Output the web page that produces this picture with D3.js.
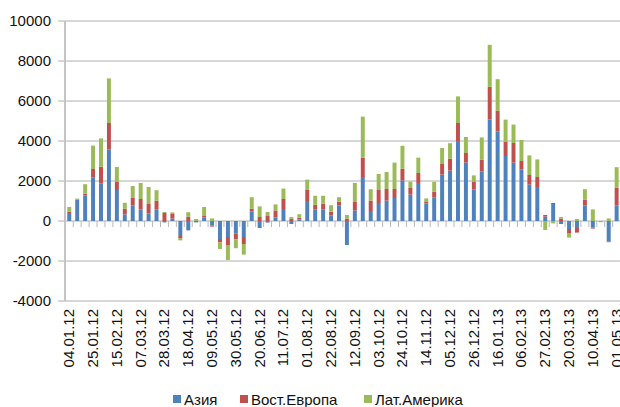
<!DOCTYPE html>
<html>
  <head>
    <meta charset="utf-8">
    <title>Потоки по регионам</title>
    <script src="https://d3js.org/d3.v7.min.js"></script>
    <style>
      body { margin: 0; background: #fff; }
      svg { display: block; font-family: "Liberation Sans", Arial, sans-serif; }
      .grid line { stroke: #b0b0b0; stroke-width: 1.2; }
      .lbl { font-size: 15px; fill: #111; }
    </style>
  </head>
  <body>
    <svg id="chart" width="620" height="407"></svg>
    <script>
      // weekly categories
      dates = ["04.01.12","11.01.12","18.01.12","25.01.12","01.02.12","08.02.12","15.02.12","22.02.12","29.02.12","07.03.12",
        "14.03.12","21.03.12","28.03.12","04.04.12","11.04.12","18.04.12","25.04.12","02.05.12","09.05.12","16.05.12",
        "23.05.12","30.05.12","06.06.12","13.06.12","20.06.12","27.06.12","04.07.12","11.07.12","18.07.12","25.07.12",
        "01.08.12","08.08.12","15.08.12","22.08.12","29.08.12","05.09.12","12.09.12","19.09.12","26.09.12","03.10.12",
        "10.10.12","17.10.12","24.10.12","31.10.12","07.11.12","14.11.12","21.11.12","28.11.12","05.12.12","12.12.12",
        "19.12.12","26.12.12","02.01.13","09.01.13","16.01.13","23.01.13","30.01.13","06.02.13","13.02.13","20.02.13",
        "27.02.13","06.03.13","13.03.13","20.03.13","27.03.13","03.04.13","10.04.13","17.04.13","24.04.13","01.05.13"];
      // series values
      asia = [400,1080,1270,2170,1870,3570,1550,330,780,580,
        380,580,-70,120,-750,-470,-70,180,-230,-900,
        -800,-630,-800,470,-350,-80,180,600,-150,80,
        1000,580,580,270,770,-1200,530,2200,500,900,
        1020,1150,2030,1320,1900,880,1180,2320,2520,4000,
        2920,1580,2480,5080,4470,3250,2920,2570,1830,1700,
        220,850,-150,-400,-350,780,-330,0,-1030,780];
      europe = [70,0,100,430,840,1330,420,280,370,520,
        470,430,400,230,-100,220,0,100,-50,-170,
        -400,-280,-350,150,200,250,350,500,120,80,
        550,230,280,200,200,120,420,970,520,650,
        580,450,580,330,500,100,280,530,600,900,
        480,370,580,1630,1050,720,980,430,470,500,
        80,50,120,-230,-230,280,-50,0,-30,880];
      latam = [230,40,470,1170,1420,2230,730,300,600,800,
        850,530,50,80,-120,220,100,420,130,-330,
        -750,-450,-530,570,530,200,300,520,80,180,
        520,450,400,320,220,180,950,2050,570,800,
        850,1320,1150,320,770,150,500,800,770,1330,
        800,330,1120,2100,1570,1100,920,1050,980,880,
        -450,-120,80,-200,100,530,580,-60,130,1030];
      seriesNames = ["Азия", "Вост.Европа", "Лат.Америка"];
      seriesColours = ["#4F81BD", "#C0504D", "#9BBB59"];
      yTicks = [-4000, -2000, 0, 2000, 4000, 6000, 8000, 10000];

      svg = d3.select("#chart");
      // table for the stack layout
      rows = dates.map(function(d, i) {
        return { date: d, "Азия": asia[i], "Вост.Европа": europe[i], "Лат.Америка": latam[i] };
      });
      stacked = d3.stack()
        .keys(seriesNames)
        .offset(d3.stackOffsetDiverging)(rows);

      x = d3.scaleBand()
        .domain(dates)
        .range([65.3, 620.6])
        .paddingInner(0.5)
        .paddingOuter(0.25);
      y = d3.scaleLinear()
        .domain([-4000, 10000])
        .range([301, 21]);

      // gridlines
      svg.append("g")
          .attr("class", "grid")
        .selectAll("line")
          .data(yTicks)
        .enter().append("line")
          .attr("x1", 58)
          .attr("x2", 620)
          .attr("y1", function(d) { return y(d); })
          .attr("y2", function(d) { return y(d); });
      // y axis line
      svg.append("line")
        .attr("x1", 65).attr("x2", 65)
        .attr("y1", y(10000)).attr("y2", y(-4000))
        .style("stroke", "#c4c4c4")
        .style("stroke-width", 2);
      // category ticks at zero
      bounds = dates.map(function(d) { return x(d) - x.step() * x.paddingInner() / 2; });
      svg.append("g")
        .selectAll("line")
          .data(bounds.slice(1))
        .enter().append("line")
          .attr("x1", function(d) { return d; })
          .attr("x2", function(d) { return d; })
          .attr("y1", y(0))
          .attr("y2", y(0) + 6)
          .style("stroke", "#b8b8b8")
          .style("stroke-width", 1);

      // bars
      svg.append("g")
        .selectAll("g")
          .data(stacked)
        .enter().append("g")
          .style("fill", function(d, i) { return seriesColours[i]; })
        .selectAll("rect")
          .data(function(d) { return d; })
        .enter().append("rect")
          .attr("x", function(d) { return x(d.data.date); })
          .attr("width", x.bandwidth())
          .attr("y", function(d) { return y(Math.max(d[0], d[1])); })
          .attr("height", function(d) { return Math.abs(y(d[0]) - y(d[1])); });

      // y labels
      svg.append("g")
        .selectAll("text")
          .data(yTicks)
        .enter().append("text")
          .attr("class", "lbl")
          .attr("x", 51)
          .attr("y", function(d) { return y(d); })
          .attr("dy", "0.35em")
          .attr("text-anchor", "end")
          .text(function(d) { return d; });

      // x labels, every third week
      svg.append("g")
        .selectAll("text")
          .data(dates.filter(function(d, i) { return i % 3 === 0; }))
        .enter().append("text")
          .attr("class", "lbl")
          .attr("text-anchor", "end")
          .attr("transform", function(d) {
            return "translate(" + (x(d) + x.bandwidth() / 2 + 5) + ",309) rotate(-90)";
          })
          .text(function(d) { return d; });

      // legend
      legendX = [173, 240, 364];
      legend = svg.append("g")
        .selectAll("g")
          .data(seriesNames)
        .enter().append("g")
          .attr("transform", function(d, i) { return "translate(" + legendX[i] + ",395)"; });
      legend.append("rect")
        .attr("width", 8)
        .attr("height", 8)
        .style("fill", function(d, i) { return seriesColours[i]; });
      legend.append("text")
        .attr("class", "lbl")
        .attr("x", 11)
        .attr("y", 9.5)
        .text(function(d) { return d; });
    </script>
  </body>
</html>
